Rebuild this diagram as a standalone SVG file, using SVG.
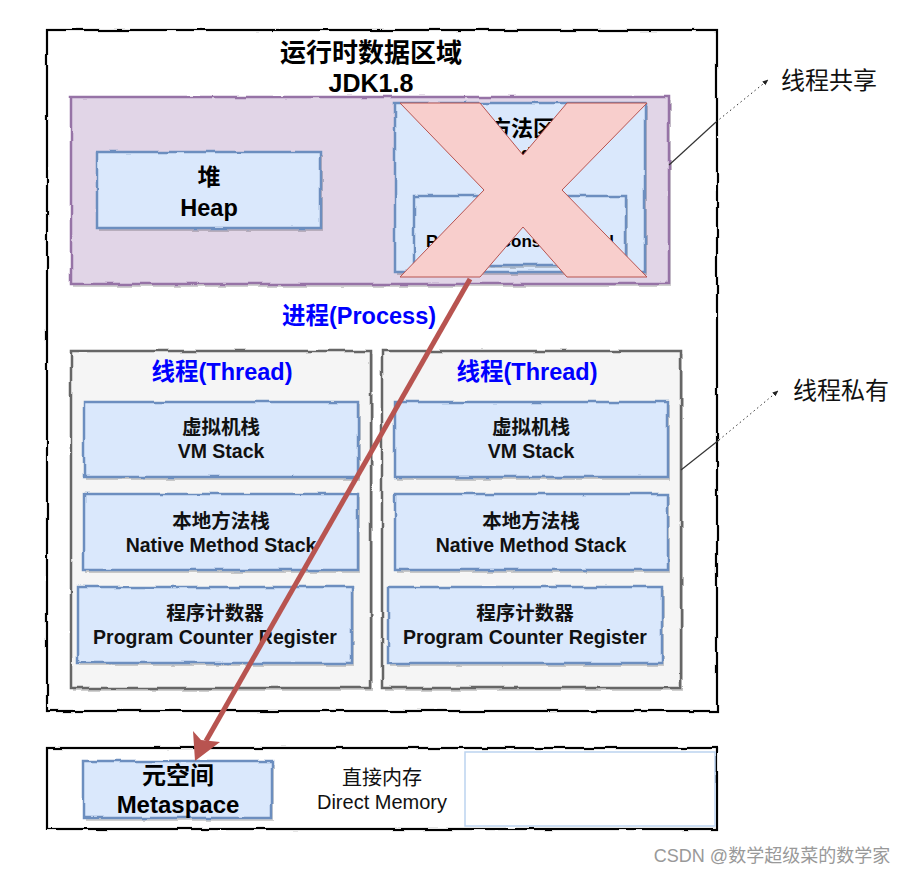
<svg xmlns="http://www.w3.org/2000/svg" width="910" height="873" viewBox="0 0 910 873">
<defs>
  <filter id="sk" x="-5%" y="-5%" width="110%" height="110%">
    <feTurbulence type="fractalNoise" baseFrequency="0.04" numOctaves="2" seed="3" result="n"/>
    <feDisplacementMap in="SourceGraphic" in2="n" scale="3.5" xChannelSelector="R" yChannelSelector="G"/>
  </filter>
  <marker id="ah" viewBox="0 0 10 10" refX="9" refY="5" markerWidth="6" markerHeight="6" orient="auto">
    <path d="M0,1 L10,5 L0,9 z" fill="#222"/>
  </marker>
</defs>
<style>
  text { font-family: "Liberation Sans", "Noto Sans CJK SC", sans-serif; text-anchor: middle; }
  .b { font-weight: bold; }
  .blue { fill: #0000ff; font-weight: bold; font-size: 23.5px; }
  .main { fill: #ffffff; stroke: #000; stroke-width: 2.2; }
  .purp { fill: #e1d5e7; stroke: #9673a6; stroke-width: 2.5; }
  .bluebox { fill: #dae8fc; stroke: #6c8ebf; stroke-width: 2.5; }
  .grey { fill: #f5f5f5; stroke: #666666; stroke-width: 2.5; }
  .sh { fill: #000; opacity: 0.18; }
  .t17 { font-size: 19.5px; fill: #111; }
</style>

<g id="runtime-area">
  <rect class="main" x="47" y="30" width="670" height="681" filter="url(#sk)"/>
  <text class="b" x="371" y="62" font-size="26">运行时数据区域</text>
  <text class="b" x="371" y="92" font-size="25">JDK1.8</text>
</g>

<g id="shared">
  <rect class="sh" x="73" y="100" width="598" height="187" filter="url(#sk)"/>
  <rect class="purp" x="71" y="97" width="598" height="187" filter="url(#sk)"/>
</g>

<g id="heap">
  <rect class="sh" x="99" y="155" width="224" height="76" filter="url(#sk)"/>
  <rect class="bluebox" x="97" y="152" width="224" height="76" filter="url(#sk)"/>
  <text class="b" x="209" y="185" font-size="23">堆</text>
  <text class="b" x="209" y="216" font-size="23.5">Heap</text>
</g>

<g id="method-area">
  <rect class="sh" x="397" y="106" width="250" height="169" filter="url(#sk)"/>
  <rect class="bluebox" x="395" y="103" width="250" height="169" filter="url(#sk)"/>
  <text class="b" x="522" y="136" font-size="22">方法区</text>
  <text class="b" x="522" y="160" font-size="19">Method Area</text>
  <rect class="sh" x="416" y="199" width="212" height="69" filter="url(#sk)"/>
  <rect class="bluebox" x="414" y="196" width="212" height="69" filter="url(#sk)"/>
  <text class="b" x="520" y="247" font-size="17">Runtime Constant Pool</text>
</g>

<g id="cross">
  <polygon points="400,103 480,103 523,155 567,103 647,103 562,190 647,277 567,277 523,227 480,277 400,277 484,190" fill="#f8cecc" stroke="#b85450" stroke-width="1"/>
</g>

<g id="process-label">
  <text class="blue" x="359" y="324">进程(Process)</text>
</g>

<g id="thread1">
  <rect class="sh" x="73" y="354" width="300" height="337" filter="url(#sk)"/>
  <rect class="grey" x="71" y="351" width="300" height="337" filter="url(#sk)"/>
  <text class="blue" x="222" y="380">线程(Thread)</text>
</g>
<g id="vmstack1">
  <rect class="sh" x="86" y="405" width="274" height="75" filter="url(#sk)"/>
  <rect class="bluebox" x="84" y="402" width="274" height="75" filter="url(#sk)"/>
  <text class="b t17" x="221" y="434">虚拟机栈</text>
  <text class="b t17" x="221" y="458">VM Stack</text>
</g>
<g id="native1">
  <rect class="sh" x="86" y="497" width="274" height="76" filter="url(#sk)"/>
  <rect class="bluebox" x="84" y="494" width="274" height="76" filter="url(#sk)"/>
  <text class="b t17" x="221" y="528">本地方法栈</text>
  <text class="b t17" x="221" y="552">Native Method Stack</text>
</g>
<g id="pc1">
  <rect class="sh" x="80" y="590" width="274" height="76" filter="url(#sk)"/>
  <rect class="bluebox" x="78" y="587" width="274" height="76" filter="url(#sk)"/>
  <text class="b t17" x="215" y="620">程序计数器</text>
  <text class="b t17" x="215" y="644">Program Counter Register</text>
</g>

<g id="thread2">
  <rect class="sh" x="384" y="354" width="299" height="337" filter="url(#sk)"/>
  <rect class="grey" x="382" y="351" width="299" height="337" filter="url(#sk)"/>
  <text class="blue" x="527" y="380">线程(Thread)</text>
</g>
<g id="vmstack2">
  <rect class="sh" x="397" y="405" width="273" height="75" filter="url(#sk)"/>
  <rect class="bluebox" x="395" y="402" width="273" height="75" filter="url(#sk)"/>
  <text class="b t17" x="531" y="434">虚拟机栈</text>
  <text class="b t17" x="531" y="458">VM Stack</text>
</g>
<g id="native2">
  <rect class="sh" x="397" y="497" width="273" height="76" filter="url(#sk)"/>
  <rect class="bluebox" x="395" y="494" width="273" height="76" filter="url(#sk)"/>
  <text class="b t17" x="531" y="528">本地方法栈</text>
  <text class="b t17" x="531" y="552">Native Method Stack</text>
</g>
<g id="pc2">
  <rect class="sh" x="390" y="590" width="274" height="76" filter="url(#sk)"/>
  <rect class="bluebox" x="388" y="587" width="274" height="76" filter="url(#sk)"/>
  <text class="b t17" x="525" y="620">程序计数器</text>
  <text class="b t17" x="525" y="644">Program Counter Register</text>
</g>

<g id="native-memory">
  <rect class="main" x="47" y="748" width="670" height="81" filter="url(#sk)"/>
</g>
<g id="metaspace">
  <rect class="sh" x="86" y="764" width="188" height="57" filter="url(#sk)"/>
  <rect class="bluebox" x="84" y="761" width="188" height="57" filter="url(#sk)"/>
  <text class="b" x="178" y="784" font-size="24">元空间</text>
  <text class="b" x="178" y="813" font-size="24">Metaspace</text>
</g>
<g id="direct-memory">
  <text x="382" y="785" font-size="20" fill="#111">直接内存</text>
  <text x="382" y="809" font-size="20" fill="#111">Direct Memory</text>
  <rect x="465" y="752" width="250" height="74" fill="#fff" stroke="#bcd3f0" stroke-width="1.5"/>
</g>

<g id="connectors">
  <line x1="470" y1="279" x2="206" y2="741" stroke="#b85450" stroke-width="5"/>
  <polygon points="195,761 193,731 201,740 220,742" fill="#b85450"/>
  <line x1="669" y1="165" x2="716" y2="122" stroke="#333" stroke-width="1.2"/>
  <line x1="716" y1="122" x2="768" y2="80" stroke="#333" stroke-width="1" stroke-dasharray="1.5,3" marker-end="url(#ah)"/>
  <line x1="681" y1="470" x2="719" y2="440" stroke="#333" stroke-width="1.2"/>
  <line x1="719" y1="440" x2="778" y2="391" stroke="#333" stroke-width="1" stroke-dasharray="1.5,3" marker-end="url(#ah)"/>
</g>

<g id="labels">
  <text x="829" y="89" font-size="24" fill="#111">线程共享</text>
  <text x="841" y="399" font-size="24" fill="#111">线程私有</text>
  <text x="772" y="862" font-size="18" fill="#999">CSDN @数学超级菜的数学家</text>
</g>
</svg>
